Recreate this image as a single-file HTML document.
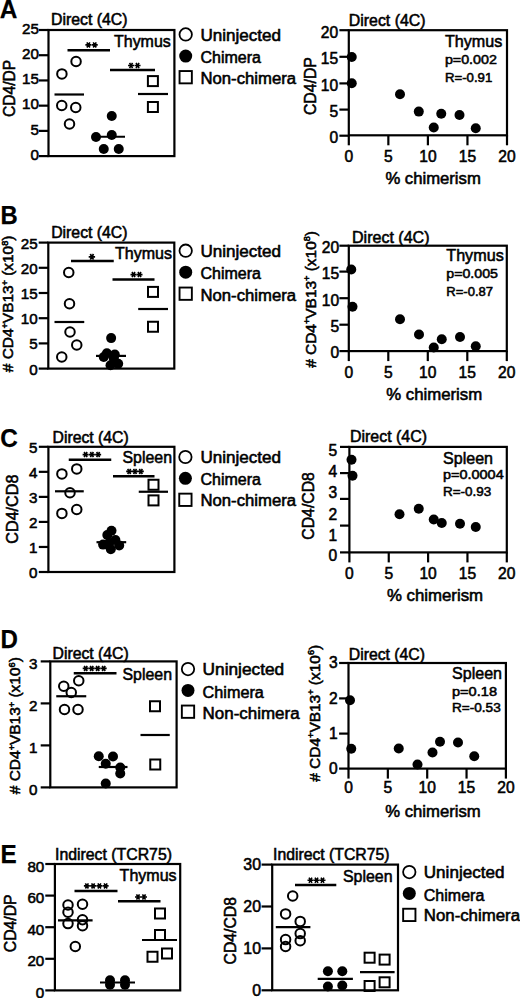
<!DOCTYPE html>
<html><head><meta charset="utf-8"><style>
html,body{margin:0;padding:0;background:#fff;}
svg{display:block;}
text{font-family:"Liberation Sans", sans-serif;fill:#000;stroke:#000;stroke-width:0.55px;}
</style></head><body>
<svg width="520" height="998" viewBox="0 0 520 998" stroke="#000" stroke-linecap="butt">
<g stroke="none">
</g>
<g>
<text x="-0.20" y="17.70" font-size="25.5" textLength="17.60" lengthAdjust="spacingAndGlyphs" font-weight="bold" style="stroke-width:0.25px">A</text>
<rect x="48.50" y="30.00" width="125.90" height="126.10" fill="none" stroke-width="2.2"/>
<line x1="38.90" y1="156.10" x2="48.50" y2="156.10" stroke-width="2.2"/>
<line x1="38.90" y1="130.88" x2="48.50" y2="130.88" stroke-width="2.2"/>
<line x1="38.90" y1="105.66" x2="48.50" y2="105.66" stroke-width="2.2"/>
<line x1="38.90" y1="80.44" x2="48.50" y2="80.44" stroke-width="2.2"/>
<line x1="38.90" y1="55.22" x2="48.50" y2="55.22" stroke-width="2.2"/>
<line x1="38.90" y1="30.00" x2="48.50" y2="30.00" stroke-width="2.2"/>
<text x="38.90" y="159.80" font-size="15.2" text-anchor="end">0</text>
<text x="38.90" y="134.58" font-size="15.2" text-anchor="end">5</text>
<text x="38.90" y="109.36" font-size="15.2" text-anchor="end">10</text>
<text x="38.90" y="84.14" font-size="15.2" text-anchor="end">15</text>
<text x="38.90" y="58.92" font-size="15.2" text-anchor="end">20</text>
<text x="38.90" y="33.70" font-size="15.2" text-anchor="end">25</text>
<text x="51.00" y="25.20" font-size="15.6" textLength="76.50" lengthAdjust="spacingAndGlyphs">Direct (4C)</text>
<text x="114.00" y="47.10" font-size="16.0" textLength="56.80" lengthAdjust="spacingAndGlyphs">Thymus</text>
<text x="15.00" y="88.35" font-size="15.8" text-anchor="middle" textLength="57.10" lengthAdjust="spacingAndGlyphs" transform="rotate(-90 15.00 88.35)">CD4/DP</text>
<circle cx="61.90" cy="73.90" r="4.75" fill="none" stroke-width="2.0"/>
<circle cx="76.06" cy="61.46" r="4.75" fill="none" stroke-width="2.0"/>
<circle cx="61.75" cy="105.50" r="4.75" fill="none" stroke-width="2.0"/>
<circle cx="75.75" cy="107.50" r="4.75" fill="none" stroke-width="2.0"/>
<circle cx="69.50" cy="124.00" r="4.75" fill="none" stroke-width="2.0"/>
<line x1="54.50" y1="94.50" x2="84.00" y2="94.50" stroke-width="2.2"/>
<circle cx="111.75" cy="116.00" r="5.0" fill="#000" stroke="none"/>
<circle cx="96.00" cy="137.00" r="5.0" fill="#000" stroke="none"/>
<circle cx="111.75" cy="135.00" r="5.0" fill="#000" stroke="none"/>
<circle cx="103.75" cy="149.00" r="5.0" fill="#000" stroke="none"/>
<circle cx="118.75" cy="149.00" r="5.0" fill="#000" stroke="none"/>
<line x1="92.50" y1="136.75" x2="125.00" y2="136.75" stroke-width="2.2"/>
<rect x="147.90" y="76.10" width="10.0" height="10.0" fill="none" stroke-width="2.0"/>
<rect x="147.90" y="102.00" width="10.0" height="10.0" fill="none" stroke-width="2.0"/>
<line x1="138.00" y1="94.00" x2="168.00" y2="94.00" stroke-width="2.2"/>
<line x1="67.50" y1="50.30" x2="110.00" y2="50.30" stroke-width="2.5"/>
<path d="M85.38,44.90L91.38,44.90M86.88,42.30L89.88,47.50M86.88,47.50L89.88,42.30" stroke-width="1.6"/>
<path d="M91.73,44.90L97.73,44.90M93.23,42.30L96.23,47.50M93.23,47.50L96.23,42.30" stroke-width="1.6"/>
<line x1="110.00" y1="70.00" x2="155.00" y2="70.00" stroke-width="2.5"/>
<path d="M128.05,65.50L134.05,65.50M129.55,62.90L132.55,68.10M129.55,68.10L132.55,62.90" stroke-width="1.6"/>
<path d="M134.55,65.50L140.55,65.50M136.05,62.90L139.05,68.10M136.05,68.10L139.05,62.90" stroke-width="1.6"/>
<circle cx="185.70" cy="34.40" r="6.2" fill="none" stroke-width="1.8"/>
<circle cx="185.70" cy="56.10" r="6.5" fill="#000" stroke="none"/>
<rect x="179.55" y="71.05" width="12.3" height="12.3" fill="none" stroke-width="1.9"/>
<text x="200.50" y="40.60" font-size="15.6" textLength="80.50" lengthAdjust="spacingAndGlyphs">Uninjected</text>
<text x="200.50" y="62.60" font-size="15.6" textLength="60.50" lengthAdjust="spacingAndGlyphs">Chimera</text>
<text x="200.50" y="84.20" font-size="15.6" textLength="95.50" lengthAdjust="spacingAndGlyphs">Non-chimera</text>
<rect x="348.80" y="30.20" width="158.20" height="105.10" fill="none" stroke-width="2.2"/>
<line x1="339.40" y1="135.70" x2="348.80" y2="135.70" stroke-width="2.2"/>
<line x1="339.40" y1="109.60" x2="348.80" y2="109.60" stroke-width="2.2"/>
<line x1="339.40" y1="83.40" x2="348.80" y2="83.40" stroke-width="2.2"/>
<line x1="339.40" y1="56.80" x2="348.80" y2="56.80" stroke-width="2.2"/>
<line x1="339.40" y1="30.20" x2="348.80" y2="30.20" stroke-width="2.2"/>
<text x="338.10" y="143.00" font-size="15.6" text-anchor="end">0</text>
<text x="338.10" y="116.90" font-size="15.6" text-anchor="end">5</text>
<text x="338.10" y="90.70" font-size="15.6" text-anchor="end">10</text>
<text x="338.10" y="64.10" font-size="15.6" text-anchor="end">15</text>
<text x="338.10" y="37.50" font-size="15.6" text-anchor="end">20</text>
<line x1="348.80" y1="135.30" x2="348.80" y2="145.30" stroke-width="2.2"/>
<text x="348.80" y="161.80" font-size="15.6" text-anchor="middle">0</text>
<line x1="388.35" y1="135.30" x2="388.35" y2="145.30" stroke-width="2.2"/>
<text x="388.35" y="161.80" font-size="15.6" text-anchor="middle">5</text>
<line x1="427.90" y1="135.30" x2="427.90" y2="145.30" stroke-width="2.2"/>
<text x="427.90" y="161.80" font-size="15.6" text-anchor="middle">10</text>
<line x1="467.45" y1="135.30" x2="467.45" y2="145.30" stroke-width="2.2"/>
<text x="467.45" y="161.80" font-size="15.6" text-anchor="middle">15</text>
<line x1="507.00" y1="135.30" x2="507.00" y2="145.30" stroke-width="2.2"/>
<text x="507.00" y="161.80" font-size="15.6" text-anchor="middle">20</text>
<text x="348.80" y="25.60" font-size="15.6" textLength="76.70" lengthAdjust="spacingAndGlyphs">Direct (4C)</text>
<text x="444.90" y="47.40" font-size="16.4" textLength="57.40" lengthAdjust="spacingAndGlyphs">Thymus</text>
<text x="444.90" y="63.80" font-size="13.4" textLength="52.00" lengthAdjust="spacingAndGlyphs">p=0.002</text>
<text x="444.90" y="82.30" font-size="13.4" textLength="47.40" lengthAdjust="spacingAndGlyphs">R=-0.91</text>
<circle cx="351.75" cy="57.00" r="5.0" fill="#000" stroke="none"/>
<circle cx="351.75" cy="83.25" r="5.0" fill="#000" stroke="none"/>
<circle cx="400.00" cy="94.30" r="5.0" fill="#000" stroke="none"/>
<circle cx="418.80" cy="111.60" r="5.0" fill="#000" stroke="none"/>
<circle cx="441.25" cy="113.75" r="5.0" fill="#000" stroke="none"/>
<circle cx="459.50" cy="115.00" r="5.0" fill="#000" stroke="none"/>
<circle cx="433.75" cy="127.50" r="5.0" fill="#000" stroke="none"/>
<circle cx="475.75" cy="128.25" r="5.0" fill="#000" stroke="none"/>
<text x="385.40" y="184.00" font-size="15.8" textLength="95.40" lengthAdjust="spacingAndGlyphs">% chimerism</text>
<text x="316.00" y="86.10" font-size="15.8" text-anchor="middle" textLength="58.00" lengthAdjust="spacingAndGlyphs" transform="rotate(-90 316.00 86.10)">CD4/DP</text>
<text x="0.60" y="224.40" font-size="25.5" textLength="17.20" lengthAdjust="spacingAndGlyphs" font-weight="bold" style="stroke-width:0.25px">B</text>
<rect x="48.30" y="242.60" width="126.00" height="126.00" fill="none" stroke-width="2.2"/>
<line x1="38.70" y1="368.60" x2="48.30" y2="368.60" stroke-width="2.2"/>
<line x1="38.70" y1="343.40" x2="48.30" y2="343.40" stroke-width="2.2"/>
<line x1="38.70" y1="318.20" x2="48.30" y2="318.20" stroke-width="2.2"/>
<line x1="38.70" y1="293.00" x2="48.30" y2="293.00" stroke-width="2.2"/>
<line x1="38.70" y1="267.80" x2="48.30" y2="267.80" stroke-width="2.2"/>
<line x1="38.70" y1="242.60" x2="48.30" y2="242.60" stroke-width="2.2"/>
<text x="37.60" y="374.60" font-size="15.2" text-anchor="end">0</text>
<text x="37.60" y="349.40" font-size="15.2" text-anchor="end">5</text>
<text x="37.60" y="324.20" font-size="15.2" text-anchor="end">10</text>
<text x="37.60" y="299.00" font-size="15.2" text-anchor="end">15</text>
<text x="37.60" y="273.80" font-size="15.2" text-anchor="end">20</text>
<text x="37.60" y="248.60" font-size="15.2" text-anchor="end">25</text>
<text x="51.20" y="238.30" font-size="15.6" textLength="76.30" lengthAdjust="spacingAndGlyphs">Direct (4C)</text>
<text x="115.00" y="258.80" font-size="16.0" textLength="57.00" lengthAdjust="spacingAndGlyphs">Thymus</text>
<text x="13.50" y="303.90" font-size="15.2" text-anchor="middle" textLength="136.60" lengthAdjust="spacingAndGlyphs" transform="rotate(-90 13.50 303.90)"># CD4<tspan dy="-5.5" font-size="9">+</tspan><tspan dy="5.5">VB13</tspan><tspan dy="-5.5" font-size="9">+</tspan><tspan dy="5.5"> (x10</tspan><tspan dy="-5.5" font-size="9">8</tspan><tspan dy="5.5">)</tspan></text>
<circle cx="68.75" cy="272.50" r="4.75" fill="none" stroke-width="2.0"/>
<circle cx="69.50" cy="303.75" r="4.75" fill="none" stroke-width="2.0"/>
<circle cx="70.00" cy="332.00" r="4.75" fill="none" stroke-width="2.0"/>
<circle cx="76.75" cy="345.00" r="4.75" fill="none" stroke-width="2.0"/>
<circle cx="61.75" cy="357.00" r="4.75" fill="none" stroke-width="2.0"/>
<line x1="54.50" y1="322.00" x2="84.25" y2="322.00" stroke-width="2.2"/>
<circle cx="111.15" cy="338.10" r="5.0" fill="#000" stroke="none"/>
<circle cx="106.90" cy="353.20" r="5.0" fill="#000" stroke="none"/>
<circle cx="103.75" cy="357.00" r="5.0" fill="#000" stroke="none"/>
<circle cx="114.80" cy="354.60" r="5.0" fill="#000" stroke="none"/>
<circle cx="110.50" cy="365.20" r="5.0" fill="#000" stroke="none"/>
<circle cx="118.20" cy="363.75" r="5.0" fill="#000" stroke="none"/>
<circle cx="113.80" cy="358.50" r="5.0" fill="#000" stroke="none"/>
<line x1="96.00" y1="355.90" x2="126.00" y2="355.90" stroke-width="2.2"/>
<rect x="148.00" y="286.90" width="10.0" height="10.0" fill="none" stroke-width="2.0"/>
<rect x="148.00" y="321.75" width="10.0" height="10.0" fill="none" stroke-width="2.0"/>
<line x1="138.20" y1="309.00" x2="168.00" y2="309.00" stroke-width="2.2"/>
<line x1="71.00" y1="261.00" x2="113.75" y2="261.00" stroke-width="2.5"/>
<path d="M88.70,256.80L95.10,256.80M90.30,254.03L93.50,259.57M90.30,259.57L93.50,254.03" stroke-width="1.7"/>
<line x1="112.50" y1="279.40" x2="154.50" y2="279.40" stroke-width="2.5"/>
<path d="M130.50,274.60L136.50,274.60M132.00,272.00L135.00,277.20M132.00,277.20L135.00,272.00" stroke-width="1.6"/>
<path d="M136.50,274.60L142.50,274.60M138.00,272.00L141.00,277.20M138.00,277.20L141.00,272.00" stroke-width="1.6"/>
<circle cx="185.70" cy="250.70" r="6.2" fill="none" stroke-width="1.8"/>
<circle cx="185.70" cy="272.20" r="6.5" fill="#000" stroke="none"/>
<rect x="179.55" y="287.55" width="12.3" height="12.3" fill="none" stroke-width="1.9"/>
<text x="200.50" y="257.10" font-size="15.6" textLength="80.50" lengthAdjust="spacingAndGlyphs">Uninjected</text>
<text x="200.50" y="278.90" font-size="15.6" textLength="60.50" lengthAdjust="spacingAndGlyphs">Chimera</text>
<text x="200.50" y="300.60" font-size="15.6" textLength="95.50" lengthAdjust="spacingAndGlyphs">Non-chimera</text>
<rect x="348.80" y="245.70" width="158.00" height="105.40" fill="none" stroke-width="2.2"/>
<line x1="339.40" y1="351.10" x2="348.80" y2="351.10" stroke-width="2.2"/>
<line x1="339.40" y1="324.70" x2="348.80" y2="324.70" stroke-width="2.2"/>
<line x1="339.40" y1="298.20" x2="348.80" y2="298.20" stroke-width="2.2"/>
<line x1="339.40" y1="271.60" x2="348.80" y2="271.60" stroke-width="2.2"/>
<line x1="339.40" y1="245.70" x2="348.80" y2="245.70" stroke-width="2.2"/>
<text x="339.20" y="358.40" font-size="15.6" text-anchor="end">0</text>
<text x="339.20" y="332.00" font-size="15.6" text-anchor="end">5</text>
<text x="339.20" y="305.50" font-size="15.6" text-anchor="end">10</text>
<text x="339.20" y="278.90" font-size="15.6" text-anchor="end">15</text>
<text x="339.20" y="253.00" font-size="15.6" text-anchor="end">20</text>
<line x1="348.80" y1="351.10" x2="348.80" y2="361.10" stroke-width="2.2"/>
<text x="348.80" y="377.60" font-size="15.6" text-anchor="middle">0</text>
<line x1="388.30" y1="351.10" x2="388.30" y2="361.10" stroke-width="2.2"/>
<text x="388.30" y="377.60" font-size="15.6" text-anchor="middle">5</text>
<line x1="427.80" y1="351.10" x2="427.80" y2="361.10" stroke-width="2.2"/>
<text x="427.80" y="377.60" font-size="15.6" text-anchor="middle">10</text>
<line x1="467.30" y1="351.10" x2="467.30" y2="361.10" stroke-width="2.2"/>
<text x="467.30" y="377.60" font-size="15.6" text-anchor="middle">15</text>
<line x1="506.80" y1="351.10" x2="506.80" y2="361.10" stroke-width="2.2"/>
<text x="506.80" y="377.60" font-size="15.6" text-anchor="middle">20</text>
<text x="352.00" y="243.00" font-size="15.6" textLength="77.50" lengthAdjust="spacingAndGlyphs">Direct (4C)</text>
<text x="446.25" y="260.50" font-size="16.4" textLength="57.50" lengthAdjust="spacingAndGlyphs">Thymus</text>
<text x="446.25" y="278.00" font-size="13.4" textLength="51.70" lengthAdjust="spacingAndGlyphs">p=0.005</text>
<text x="446.25" y="295.50" font-size="13.4" textLength="46.80" lengthAdjust="spacingAndGlyphs">R=-0.87</text>
<circle cx="351.25" cy="269.50" r="5.0" fill="#000" stroke="none"/>
<circle cx="352.50" cy="306.75" r="5.0" fill="#000" stroke="none"/>
<circle cx="400.00" cy="319.25" r="5.0" fill="#000" stroke="none"/>
<circle cx="419.00" cy="334.50" r="5.0" fill="#000" stroke="none"/>
<circle cx="441.75" cy="339.25" r="5.0" fill="#000" stroke="none"/>
<circle cx="460.00" cy="337.00" r="5.0" fill="#000" stroke="none"/>
<circle cx="433.75" cy="347.50" r="5.0" fill="#000" stroke="none"/>
<circle cx="475.75" cy="346.25" r="5.0" fill="#000" stroke="none"/>
<text x="386.20" y="399.50" font-size="15.8" textLength="96.00" lengthAdjust="spacingAndGlyphs">% chimerism</text>
<text x="315.80" y="299.40" font-size="15.2" text-anchor="middle" textLength="136.80" lengthAdjust="spacingAndGlyphs" transform="rotate(-90 315.80 299.40)"># CD4<tspan dy="-5.5" font-size="9">+</tspan><tspan dy="5.5">VB13</tspan><tspan dy="-5.5" font-size="9">+</tspan><tspan dy="5.5"> (x10</tspan><tspan dy="-5.5" font-size="9">8</tspan><tspan dy="5.5">)</tspan></text>
<text x="0.20" y="446.90" font-size="25.5" textLength="17.60" lengthAdjust="spacingAndGlyphs" font-weight="bold" style="stroke-width:0.25px">C</text>
<rect x="48.40" y="446.80" width="126.00" height="125.20" fill="none" stroke-width="2.2"/>
<line x1="38.80" y1="572.00" x2="48.40" y2="572.00" stroke-width="2.2"/>
<line x1="38.80" y1="546.96" x2="48.40" y2="546.96" stroke-width="2.2"/>
<line x1="38.80" y1="521.92" x2="48.40" y2="521.92" stroke-width="2.2"/>
<line x1="38.80" y1="496.88" x2="48.40" y2="496.88" stroke-width="2.2"/>
<line x1="38.80" y1="471.84" x2="48.40" y2="471.84" stroke-width="2.2"/>
<line x1="38.80" y1="446.80" x2="48.40" y2="446.80" stroke-width="2.2"/>
<text x="37.50" y="577.90" font-size="15.2" text-anchor="end">0</text>
<text x="37.50" y="552.86" font-size="15.2" text-anchor="end">1</text>
<text x="37.50" y="527.82" font-size="15.2" text-anchor="end">2</text>
<text x="37.50" y="502.78" font-size="15.2" text-anchor="end">3</text>
<text x="37.50" y="477.74" font-size="15.2" text-anchor="end">4</text>
<text x="37.50" y="452.70" font-size="15.2" text-anchor="end">5</text>
<text x="52.50" y="442.60" font-size="15.6" textLength="76.25" lengthAdjust="spacingAndGlyphs">Direct (4C)</text>
<text x="122.50" y="462.60" font-size="16.0" textLength="49.50" lengthAdjust="spacingAndGlyphs">Spleen</text>
<text x="18.40" y="509.15" font-size="15.8" text-anchor="middle" textLength="69.10" lengthAdjust="spacingAndGlyphs" transform="rotate(-90 18.40 509.15)">CD4/CD8</text>
<circle cx="61.90" cy="473.90" r="4.75" fill="none" stroke-width="2.0"/>
<circle cx="76.75" cy="468.90" r="4.75" fill="none" stroke-width="2.0"/>
<circle cx="70.00" cy="492.70" r="4.75" fill="none" stroke-width="2.0"/>
<circle cx="61.90" cy="513.40" r="4.75" fill="none" stroke-width="2.0"/>
<circle cx="76.75" cy="509.50" r="4.75" fill="none" stroke-width="2.0"/>
<line x1="55.00" y1="491.30" x2="83.75" y2="491.30" stroke-width="2.2"/>
<circle cx="111.50" cy="530.80" r="5.0" fill="#000" stroke="none"/>
<circle cx="107.30" cy="535.00" r="5.0" fill="#000" stroke="none"/>
<circle cx="115.40" cy="540.00" r="5.0" fill="#000" stroke="none"/>
<circle cx="103.10" cy="544.60" r="5.0" fill="#000" stroke="none"/>
<circle cx="119.20" cy="545.40" r="5.0" fill="#000" stroke="none"/>
<circle cx="110.80" cy="549.20" r="5.0" fill="#000" stroke="none"/>
<circle cx="109.20" cy="543.00" r="5.0" fill="#000" stroke="none"/>
<line x1="96.50" y1="542.20" x2="126.20" y2="542.20" stroke-width="2.2"/>
<rect x="148.50" y="479.75" width="10.0" height="10.0" fill="none" stroke-width="2.0"/>
<rect x="148.50" y="495.40" width="10.0" height="10.0" fill="none" stroke-width="2.0"/>
<line x1="138.75" y1="491.75" x2="168.00" y2="491.75" stroke-width="2.2"/>
<line x1="68.75" y1="459.80" x2="111.25" y2="459.80" stroke-width="2.5"/>
<path d="M82.62,454.60L88.62,454.60M84.12,452.00L87.12,457.20M84.12,457.20L87.12,452.00" stroke-width="1.6"/>
<path d="M88.88,454.60L94.88,454.60M90.38,452.00L93.38,457.20M90.38,457.20L93.38,452.00" stroke-width="1.6"/>
<path d="M95.12,454.60L101.12,454.60M96.62,452.00L99.62,457.20M96.62,457.20L99.62,452.00" stroke-width="1.6"/>
<line x1="113.00" y1="476.20" x2="154.50" y2="476.20" stroke-width="2.5"/>
<path d="M126.17,471.40L132.17,471.40M127.67,468.80L130.67,474.00M127.67,474.00L130.67,468.80" stroke-width="1.6"/>
<path d="M132.00,471.40L138.00,471.40M133.50,468.80L136.50,474.00M133.50,474.00L136.50,468.80" stroke-width="1.6"/>
<path d="M137.83,471.40L143.83,471.40M139.33,468.80L142.33,474.00M139.33,474.00L142.33,468.80" stroke-width="1.6"/>
<circle cx="185.40" cy="457.00" r="6.2" fill="none" stroke-width="1.8"/>
<circle cx="185.40" cy="478.30" r="6.5" fill="#000" stroke="none"/>
<rect x="179.25" y="493.65" width="12.3" height="12.3" fill="none" stroke-width="1.9"/>
<text x="200.50" y="462.60" font-size="15.6" textLength="80.50" lengthAdjust="spacingAndGlyphs">Uninjected</text>
<text x="200.50" y="484.60" font-size="15.6" textLength="60.50" lengthAdjust="spacingAndGlyphs">Chimera</text>
<text x="200.50" y="506.40" font-size="15.6" textLength="95.50" lengthAdjust="spacingAndGlyphs">Non-chimera</text>
<rect x="349.40" y="446.90" width="157.40" height="105.50" fill="none" stroke-width="2.2"/>
<line x1="340.00" y1="446.90" x2="349.40" y2="446.90" stroke-width="2.2"/>
<line x1="340.00" y1="473.10" x2="349.40" y2="473.10" stroke-width="2.2"/>
<line x1="340.00" y1="498.90" x2="349.40" y2="498.90" stroke-width="2.2"/>
<line x1="340.00" y1="525.60" x2="349.40" y2="525.60" stroke-width="2.2"/>
<line x1="340.00" y1="552.40" x2="349.40" y2="552.40" stroke-width="2.2"/>
<text x="337.10" y="455.90" font-size="15.6" text-anchor="end">5</text>
<text x="337.10" y="477.30" font-size="15.6" text-anchor="end">4</text>
<text x="337.10" y="497.70" font-size="15.6" text-anchor="end">3</text>
<text x="337.10" y="519.50" font-size="15.6" text-anchor="end">2</text>
<text x="337.10" y="540.50" font-size="15.6" text-anchor="end">1</text>
<text x="337.10" y="560.80" font-size="15.6" text-anchor="end">0</text>
<line x1="349.40" y1="552.40" x2="349.40" y2="562.40" stroke-width="2.2"/>
<text x="349.40" y="578.70" font-size="15.6" text-anchor="middle">0</text>
<line x1="388.75" y1="552.40" x2="388.75" y2="562.40" stroke-width="2.2"/>
<text x="388.75" y="578.70" font-size="15.6" text-anchor="middle">5</text>
<line x1="428.10" y1="552.40" x2="428.10" y2="562.40" stroke-width="2.2"/>
<text x="428.10" y="578.70" font-size="15.6" text-anchor="middle">10</text>
<line x1="467.45" y1="552.40" x2="467.45" y2="562.40" stroke-width="2.2"/>
<text x="467.45" y="578.70" font-size="15.6" text-anchor="middle">15</text>
<line x1="506.80" y1="552.40" x2="506.80" y2="562.40" stroke-width="2.2"/>
<text x="506.80" y="578.70" font-size="15.6" text-anchor="middle">20</text>
<text x="350.00" y="442.20" font-size="15.6" textLength="77.00" lengthAdjust="spacingAndGlyphs">Direct (4C)</text>
<text x="443.00" y="463.80" font-size="16.4" textLength="50.00" lengthAdjust="spacingAndGlyphs">Spleen</text>
<text x="443.00" y="479.30" font-size="13.4" textLength="60.70" lengthAdjust="spacingAndGlyphs">p=0.0004</text>
<text x="443.00" y="495.50" font-size="13.4" textLength="48.20" lengthAdjust="spacingAndGlyphs">R=-0.93</text>
<circle cx="351.50" cy="459.80" r="5.0" fill="#000" stroke="none"/>
<circle cx="352.50" cy="475.80" r="5.0" fill="#000" stroke="none"/>
<circle cx="399.50" cy="514.25" r="5.0" fill="#000" stroke="none"/>
<circle cx="418.75" cy="508.75" r="5.0" fill="#000" stroke="none"/>
<circle cx="433.75" cy="519.50" r="5.0" fill="#000" stroke="none"/>
<circle cx="441.75" cy="523.00" r="5.0" fill="#000" stroke="none"/>
<circle cx="460.00" cy="523.75" r="5.0" fill="#000" stroke="none"/>
<circle cx="475.75" cy="527.00" r="5.0" fill="#000" stroke="none"/>
<text x="386.90" y="601.40" font-size="15.8" textLength="96.20" lengthAdjust="spacingAndGlyphs">% chimerism</text>
<text x="314.20" y="505.90" font-size="15.8" text-anchor="middle" textLength="67.60" lengthAdjust="spacingAndGlyphs" transform="rotate(-90 314.20 505.90)">CD4/CD8</text>
<text x="0.60" y="648.40" font-size="25.5" textLength="17.40" lengthAdjust="spacingAndGlyphs" font-weight="bold" style="stroke-width:0.25px">D</text>
<rect x="50.30" y="661.40" width="126.30" height="126.00" fill="none" stroke-width="2.2"/>
<line x1="40.70" y1="787.40" x2="50.30" y2="787.40" stroke-width="2.2"/>
<line x1="40.70" y1="745.40" x2="50.30" y2="745.40" stroke-width="2.2"/>
<line x1="40.70" y1="703.40" x2="50.30" y2="703.40" stroke-width="2.2"/>
<line x1="40.70" y1="661.40" x2="50.30" y2="661.40" stroke-width="2.2"/>
<text x="37.40" y="795.20" font-size="15.2" text-anchor="end">0</text>
<text x="37.40" y="753.20" font-size="15.2" text-anchor="end">1</text>
<text x="37.40" y="711.20" font-size="15.2" text-anchor="end">2</text>
<text x="37.40" y="669.20" font-size="15.2" text-anchor="end">3</text>
<text x="52.50" y="658.80" font-size="15.6" textLength="76.25" lengthAdjust="spacingAndGlyphs">Direct (4C)</text>
<text x="122.50" y="680.00" font-size="16.0" textLength="49.50" lengthAdjust="spacingAndGlyphs">Spleen</text>
<text x="20.40" y="725.70" font-size="15.2" text-anchor="middle" textLength="137.00" lengthAdjust="spacingAndGlyphs" transform="rotate(-90 20.40 725.70)"># CD4<tspan dy="-5.5" font-size="9">+</tspan><tspan dy="5.5">VB13</tspan><tspan dy="-5.5" font-size="9">+</tspan><tspan dy="5.5"> (x10</tspan><tspan dy="-5.5" font-size="9">6</tspan><tspan dy="5.5">)</tspan></text>
<circle cx="63.75" cy="686.25" r="4.75" fill="none" stroke-width="2.0"/>
<circle cx="78.75" cy="680.75" r="4.75" fill="none" stroke-width="2.0"/>
<circle cx="71.25" cy="692.50" r="4.75" fill="none" stroke-width="2.0"/>
<circle cx="64.50" cy="709.50" r="4.75" fill="none" stroke-width="2.0"/>
<circle cx="78.00" cy="709.50" r="4.75" fill="none" stroke-width="2.0"/>
<line x1="56.25" y1="696.25" x2="86.25" y2="696.25" stroke-width="2.2"/>
<circle cx="98.75" cy="756.25" r="5.0" fill="#000" stroke="none"/>
<circle cx="113.00" cy="756.50" r="5.0" fill="#000" stroke="none"/>
<circle cx="105.75" cy="763.75" r="5.0" fill="#000" stroke="none"/>
<circle cx="120.25" cy="767.50" r="5.0" fill="#000" stroke="none"/>
<circle cx="120.25" cy="773.50" r="5.0" fill="#000" stroke="none"/>
<circle cx="105.75" cy="783.50" r="5.0" fill="#000" stroke="none"/>
<line x1="98.75" y1="767.00" x2="127.50" y2="767.00" stroke-width="2.2"/>
<rect x="150.00" y="701.25" width="10.0" height="10.0" fill="none" stroke-width="2.0"/>
<rect x="150.25" y="759.50" width="10.0" height="10.0" fill="none" stroke-width="2.0"/>
<line x1="140.50" y1="735.00" x2="169.75" y2="735.00" stroke-width="2.2"/>
<line x1="73.75" y1="673.20" x2="116.50" y2="673.20" stroke-width="2.5"/>
<path d="M82.70,668.40L88.70,668.40M84.20,665.80L87.20,671.00M84.20,671.00L87.20,665.80" stroke-width="1.6"/>
<path d="M88.70,668.40L94.70,668.40M90.20,665.80L93.20,671.00M90.20,671.00L93.20,665.80" stroke-width="1.6"/>
<path d="M94.70,668.40L100.70,668.40M96.20,665.80L99.20,671.00M96.20,671.00L99.20,665.80" stroke-width="1.6"/>
<path d="M100.70,668.40L106.70,668.40M102.20,665.80L105.20,671.00M102.20,671.00L105.20,665.80" stroke-width="1.6"/>
<circle cx="188.00" cy="669.10" r="6.2" fill="none" stroke-width="1.8"/>
<circle cx="188.00" cy="690.40" r="6.5" fill="#000" stroke="none"/>
<rect x="181.85" y="705.55" width="12.3" height="12.3" fill="none" stroke-width="1.9"/>
<text x="202.60" y="675.30" font-size="15.6" textLength="81.60" lengthAdjust="spacingAndGlyphs">Uninjected</text>
<text x="202.60" y="698.20" font-size="15.6" textLength="61.20" lengthAdjust="spacingAndGlyphs">Chimera</text>
<text x="202.60" y="718.70" font-size="15.6" textLength="97.00" lengthAdjust="spacingAndGlyphs">Non-chimera</text>
<rect x="348.50" y="663.00" width="157.40" height="105.60" fill="none" stroke-width="2.2"/>
<line x1="339.10" y1="768.60" x2="348.50" y2="768.60" stroke-width="2.2"/>
<line x1="339.10" y1="733.60" x2="348.50" y2="733.60" stroke-width="2.2"/>
<line x1="339.10" y1="698.40" x2="348.50" y2="698.40" stroke-width="2.2"/>
<line x1="339.10" y1="663.00" x2="348.50" y2="663.00" stroke-width="2.2"/>
<text x="337.60" y="773.90" font-size="15.6" text-anchor="end">0</text>
<text x="337.60" y="738.90" font-size="15.6" text-anchor="end">1</text>
<text x="337.60" y="703.70" font-size="15.6" text-anchor="end">2</text>
<text x="337.60" y="668.30" font-size="15.6" text-anchor="end">3</text>
<line x1="348.50" y1="768.60" x2="348.50" y2="778.60" stroke-width="2.2"/>
<text x="348.50" y="793.30" font-size="15.6" text-anchor="middle">0</text>
<line x1="387.85" y1="768.60" x2="387.85" y2="778.60" stroke-width="2.2"/>
<text x="387.85" y="793.30" font-size="15.6" text-anchor="middle">5</text>
<line x1="427.20" y1="768.60" x2="427.20" y2="778.60" stroke-width="2.2"/>
<text x="427.20" y="793.30" font-size="15.6" text-anchor="middle">10</text>
<line x1="466.55" y1="768.60" x2="466.55" y2="778.60" stroke-width="2.2"/>
<text x="466.55" y="793.30" font-size="15.6" text-anchor="middle">15</text>
<line x1="505.90" y1="768.60" x2="505.90" y2="778.60" stroke-width="2.2"/>
<text x="505.90" y="793.30" font-size="15.6" text-anchor="middle">20</text>
<text x="348.75" y="659.50" font-size="15.6" textLength="76.25" lengthAdjust="spacingAndGlyphs">Direct (4C)</text>
<text x="452.00" y="678.80" font-size="16.4" textLength="50.00" lengthAdjust="spacingAndGlyphs">Spleen</text>
<text x="452.00" y="695.50" font-size="13.4" textLength="45.00" lengthAdjust="spacingAndGlyphs">p=0.18</text>
<text x="452.00" y="712.00" font-size="13.4" textLength="48.70" lengthAdjust="spacingAndGlyphs">R=-0.53</text>
<circle cx="350.00" cy="700.25" r="5.0" fill="#000" stroke="none"/>
<circle cx="351.25" cy="748.75" r="5.0" fill="#000" stroke="none"/>
<circle cx="398.75" cy="748.50" r="5.0" fill="#000" stroke="none"/>
<circle cx="417.50" cy="764.50" r="5.0" fill="#000" stroke="none"/>
<circle cx="432.50" cy="752.50" r="5.0" fill="#000" stroke="none"/>
<circle cx="440.00" cy="741.75" r="5.0" fill="#000" stroke="none"/>
<circle cx="458.00" cy="742.50" r="5.0" fill="#000" stroke="none"/>
<circle cx="474.25" cy="756.25" r="5.0" fill="#000" stroke="none"/>
<text x="385.30" y="816.60" font-size="15.8" textLength="95.40" lengthAdjust="spacingAndGlyphs">% chimerism</text>
<text x="319.60" y="713.30" font-size="15.2" text-anchor="middle" textLength="137.00" lengthAdjust="spacingAndGlyphs" transform="rotate(-90 319.60 713.30)"># CD4<tspan dy="-5.5" font-size="9">+</tspan><tspan dy="5.5">VB13</tspan><tspan dy="-5.5" font-size="9">+</tspan><tspan dy="5.5"> (x10</tspan><tspan dy="-5.5" font-size="9">6</tspan><tspan dy="5.5">)</tspan></text>
<text x="0.60" y="863.40" font-size="25.5" textLength="16.20" lengthAdjust="spacingAndGlyphs" font-weight="bold" style="stroke-width:0.25px">E</text>
<rect x="54.90" y="864.00" width="125.30" height="126.40" fill="none" stroke-width="2.2"/>
<line x1="45.30" y1="990.40" x2="54.90" y2="990.40" stroke-width="2.2"/>
<line x1="45.30" y1="958.80" x2="54.90" y2="958.80" stroke-width="2.2"/>
<line x1="45.30" y1="927.20" x2="54.90" y2="927.20" stroke-width="2.2"/>
<line x1="45.30" y1="895.60" x2="54.90" y2="895.60" stroke-width="2.2"/>
<line x1="45.30" y1="864.00" x2="54.90" y2="864.00" stroke-width="2.2"/>
<text x="44.30" y="997.90" font-size="15.2" text-anchor="end">0</text>
<text x="44.30" y="966.30" font-size="15.2" text-anchor="end">20</text>
<text x="44.30" y="934.70" font-size="15.2" text-anchor="end">40</text>
<text x="44.30" y="903.10" font-size="15.2" text-anchor="end">60</text>
<text x="44.30" y="871.50" font-size="15.2" text-anchor="end">80</text>
<text x="55.00" y="860.30" font-size="15.6" textLength="117.00" lengthAdjust="spacingAndGlyphs">Indirect (TCR75)</text>
<text x="119.60" y="881.30" font-size="16.0" textLength="57.00" lengthAdjust="spacingAndGlyphs">Thymus</text>
<text x="15.90" y="923.30" font-size="15.8" text-anchor="middle" textLength="57.80" lengthAdjust="spacingAndGlyphs" transform="rotate(-90 15.90 923.30)">CD4/DP</text>
<circle cx="68.00" cy="905.00" r="4.75" fill="none" stroke-width="2.0"/>
<circle cx="68.00" cy="912.30" r="4.75" fill="none" stroke-width="2.0"/>
<circle cx="68.00" cy="923.60" r="4.75" fill="none" stroke-width="2.0"/>
<circle cx="82.50" cy="904.30" r="4.75" fill="none" stroke-width="2.0"/>
<circle cx="82.50" cy="919.70" r="4.75" fill="none" stroke-width="2.0"/>
<circle cx="82.50" cy="925.70" r="4.75" fill="none" stroke-width="2.0"/>
<circle cx="75.30" cy="946.50" r="4.75" fill="none" stroke-width="2.0"/>
<line x1="58.00" y1="920.30" x2="92.60" y2="920.30" stroke-width="2.2"/>
<circle cx="110.00" cy="980.20" r="5.0" fill="#000" stroke="none"/>
<circle cx="110.00" cy="984.80" r="5.0" fill="#000" stroke="none"/>
<circle cx="125.00" cy="980.20" r="5.0" fill="#000" stroke="none"/>
<circle cx="125.00" cy="984.80" r="5.0" fill="#000" stroke="none"/>
<line x1="100.00" y1="982.50" x2="135.00" y2="982.50" stroke-width="2.2"/>
<rect x="155.00" y="908.50" width="10.0" height="10.0" fill="none" stroke-width="2.0"/>
<rect x="155.00" y="930.00" width="10.0" height="10.0" fill="none" stroke-width="2.0"/>
<rect x="147.50" y="951.75" width="10.0" height="10.0" fill="none" stroke-width="2.0"/>
<rect x="162.00" y="948.50" width="10.0" height="10.0" fill="none" stroke-width="2.0"/>
<line x1="142.00" y1="940.00" x2="177.00" y2="940.00" stroke-width="2.2"/>
<line x1="74.50" y1="891.00" x2="117.50" y2="891.00" stroke-width="2.5"/>
<path d="M83.88,885.90L89.88,885.90M85.38,883.30L88.38,888.50M85.38,888.50L88.38,883.30" stroke-width="1.6"/>
<path d="M90.12,885.90L96.12,885.90M91.62,883.30L94.62,888.50M91.62,888.50L94.62,883.30" stroke-width="1.6"/>
<path d="M96.38,885.90L102.38,885.90M97.88,883.30L100.88,888.50M97.88,888.50L100.88,883.30" stroke-width="1.6"/>
<path d="M102.62,885.90L108.62,885.90M104.12,883.30L107.12,888.50M104.12,888.50L107.12,883.30" stroke-width="1.6"/>
<line x1="118.00" y1="901.30" x2="160.50" y2="901.30" stroke-width="2.5"/>
<path d="M135.00,897.00L141.00,897.00M136.50,894.40L139.50,899.60M136.50,899.60L139.50,894.40" stroke-width="1.6"/>
<path d="M141.00,897.00L147.00,897.00M142.50,894.40L145.50,899.60M142.50,899.60L145.50,894.40" stroke-width="1.6"/>
<rect x="272.20" y="864.60" width="125.80" height="125.70" fill="none" stroke-width="2.2"/>
<line x1="261.60" y1="990.30" x2="272.20" y2="990.30" stroke-width="2.2"/>
<line x1="261.60" y1="948.40" x2="272.20" y2="948.40" stroke-width="2.2"/>
<line x1="261.60" y1="906.50" x2="272.20" y2="906.50" stroke-width="2.2"/>
<line x1="261.60" y1="864.60" x2="272.20" y2="864.60" stroke-width="2.2"/>
<text x="261.00" y="995.70" font-size="15.9" text-anchor="end">0</text>
<text x="261.00" y="953.80" font-size="15.9" text-anchor="end">10</text>
<text x="261.00" y="911.90" font-size="15.9" text-anchor="end">20</text>
<text x="261.00" y="870.00" font-size="15.9" text-anchor="end">30</text>
<text x="273.00" y="860.00" font-size="15.6" textLength="116.50" lengthAdjust="spacingAndGlyphs">Indirect (TCR75)</text>
<text x="343.00" y="882.00" font-size="16.0" textLength="49.50" lengthAdjust="spacingAndGlyphs">Spleen</text>
<text x="236.30" y="930.70" font-size="15.8" text-anchor="middle" textLength="67.40" lengthAdjust="spacingAndGlyphs" transform="rotate(-90 236.30 930.70)">CD4/CD8</text>
<circle cx="292.70" cy="896.00" r="4.75" fill="none" stroke-width="2.0"/>
<circle cx="285.60" cy="913.90" r="4.75" fill="none" stroke-width="2.0"/>
<circle cx="300.20" cy="921.40" r="4.75" fill="none" stroke-width="2.0"/>
<circle cx="300.20" cy="933.60" r="4.75" fill="none" stroke-width="2.0"/>
<circle cx="300.20" cy="940.80" r="4.75" fill="none" stroke-width="2.0"/>
<circle cx="285.60" cy="939.60" r="4.75" fill="none" stroke-width="2.0"/>
<circle cx="285.60" cy="946.50" r="4.75" fill="none" stroke-width="2.0"/>
<line x1="275.80" y1="927.20" x2="310.40" y2="927.20" stroke-width="2.2"/>
<circle cx="327.90" cy="971.20" r="5.0" fill="#000" stroke="none"/>
<circle cx="342.30" cy="971.20" r="5.0" fill="#000" stroke="none"/>
<circle cx="327.90" cy="986.50" r="5.0" fill="#000" stroke="none"/>
<circle cx="342.30" cy="985.50" r="5.0" fill="#000" stroke="none"/>
<line x1="317.70" y1="978.80" x2="352.90" y2="978.80" stroke-width="2.2"/>
<rect x="364.60" y="952.70" width="10.0" height="10.0" fill="none" stroke-width="2.0"/>
<rect x="379.60" y="954.60" width="10.0" height="10.0" fill="none" stroke-width="2.0"/>
<rect x="364.60" y="981.00" width="10.0" height="10.0" fill="none" stroke-width="2.0"/>
<rect x="379.60" y="977.30" width="10.0" height="10.0" fill="none" stroke-width="2.0"/>
<line x1="360.00" y1="972.10" x2="394.60" y2="972.10" stroke-width="2.2"/>
<line x1="295.00" y1="885.00" x2="336.30" y2="885.00" stroke-width="2.5"/>
<path d="M307.50,880.20L313.50,880.20M309.00,877.60L312.00,882.80M309.00,882.80L312.00,877.60" stroke-width="1.6"/>
<path d="M313.50,880.20L319.50,880.20M315.00,877.60L318.00,882.80M315.00,882.80L318.00,877.60" stroke-width="1.6"/>
<path d="M319.50,880.20L325.50,880.20M321.00,877.60L324.00,882.80M321.00,882.80L324.00,877.60" stroke-width="1.6"/>
<circle cx="409.30" cy="872.10" r="6.2" fill="none" stroke-width="1.8"/>
<circle cx="409.30" cy="893.40" r="6.5" fill="#000" stroke="none"/>
<rect x="403.15" y="908.75" width="12.3" height="12.3" fill="none" stroke-width="1.9"/>
<text x="423.80" y="878.30" font-size="15.6" textLength="80.60" lengthAdjust="spacingAndGlyphs">Uninjected</text>
<text x="423.80" y="900.70" font-size="15.6" textLength="60.50" lengthAdjust="spacingAndGlyphs">Chimera</text>
<text x="423.80" y="921.10" font-size="15.6" textLength="96.20" lengthAdjust="spacingAndGlyphs">Non-chimera</text>
</g>
</svg></body></html>
